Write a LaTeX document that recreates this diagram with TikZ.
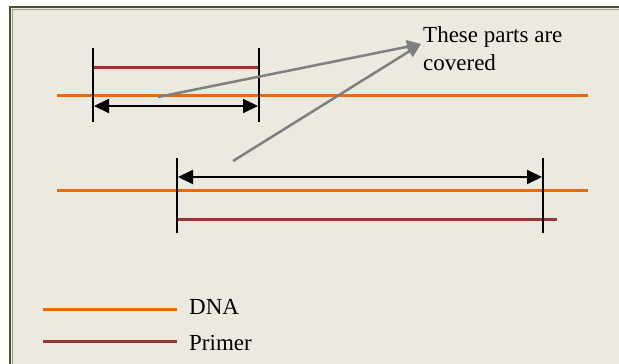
\documentclass[tikz,border=0pt]{standalone}
\usepackage{fontspec}
\setmainfont{Liberation Serif}
\usetikzlibrary{arrows.meta}
\definecolor{paper}{HTML}{ECE9DE}
\definecolor{framec}{HTML}{4E4E38}
\definecolor{dnac}{HTML}{E46C0A}
\definecolor{primerc}{HTML}{953735}
\definecolor{pointc}{HTML}{808080}
\tikzset{
  dnaline/.style={draw=dnac, line width=3pt},
  primerline/.style={draw=primerc, line width=3pt},
  tick/.style={draw=black, line width=1.5pt},
  span/.style={draw=black, line width=2pt, {Triangle[length=15pt,width=14pt]}-{Triangle[length=15pt,width=14pt]}, shorten <=1pt, shorten >=1pt},
  pointer/.style={draw=pointc, line width=2.5pt, -{Triangle[length=14pt,width=13pt]}},
  lbl/.style={font=\fontsize{23}{28}\selectfont, inner sep=0pt, anchor=base west, text=black}
}
\begin{document}
\begin{tikzpicture}[x=1pt, y=-1pt]
  \useasboundingbox (0,0) rectangle (619,364);
  % panel
  \fill[white] (0,0) rectangle (619,364);
  \fill[paper] (10,7) rectangle (625,370);
  \draw[framec, line width=2.5pt] (10,372) -- (10,7) -- (625,7);
  \draw[framec!55, line width=0.8pt] (12,372) -- (12,9) -- (625,9);

  % upper duplex
  \coordinate (d1a) at (57,95);   \coordinate (d1b) at (588,95);
  \coordinate (p1a) at (93,67);   \coordinate (p1b) at (259,67);
  \coordinate (t1at) at (93,48);  \coordinate (t1ab) at (93,122);
  \coordinate (t1bt) at (259,48); \coordinate (t1bb) at (259,122);
  \coordinate (s1a) at (93,106);  \coordinate (s1b) at (259,106);
  \draw[dnaline] (d1a) -- (d1b);
  \draw[primerline] (p1a) -- (p1b);
  \draw[tick] (t1at) -- (t1ab);
  \draw[tick] (t1bt) -- (t1bb);
  \draw[span] (s1a) -- (s1b);

  % lower duplex
  \coordinate (d2a) at (57,190);   \coordinate (d2b) at (588,190);
  \coordinate (p2a) at (177,219);  \coordinate (p2b) at (557,219);
  \coordinate (t2at) at (177,158); \coordinate (t2ab) at (177,233);
  \coordinate (t2bt) at (543,158); \coordinate (t2bb) at (543,233);
  \coordinate (s2a) at (177,177);  \coordinate (s2b) at (543,177);
  \draw[dnaline] (d2a) -- (d2b);
  \draw[primerline] (p2a) -- (p2b);
  \draw[tick] (t2at) -- (t2ab);
  \draw[tick] (t2bt) -- (t2bb);
  \draw[span] (s2a) -- (s2b);

  % annotation
  \node[lbl] (note1) at (423,42) {These parts are};
  \node[lbl] (note2) at (423,70) {covered};
  \coordinate (tip) at (421,44);
  \coordinate (from1) at (158,97);
  \coordinate (from2) at (233,161);
  \draw[pointer] (from1) -- (tip);
  \draw[pointer] (from2) -- (tip);

  % legend
  \coordinate (l1a) at (43,309); \coordinate (l1b) at (177,309);
  \coordinate (l2a) at (43,341); \coordinate (l2b) at (177,341);
  \draw[dnaline] (l1a) -- (l1b);
  \draw[primerline] (l2a) -- (l2b);
  \node[lbl] (dnatxt) at (189,314) {DNA};
  \node[lbl] (primertxt) at (189,350) {Primer};
\end{tikzpicture}
\end{document}
